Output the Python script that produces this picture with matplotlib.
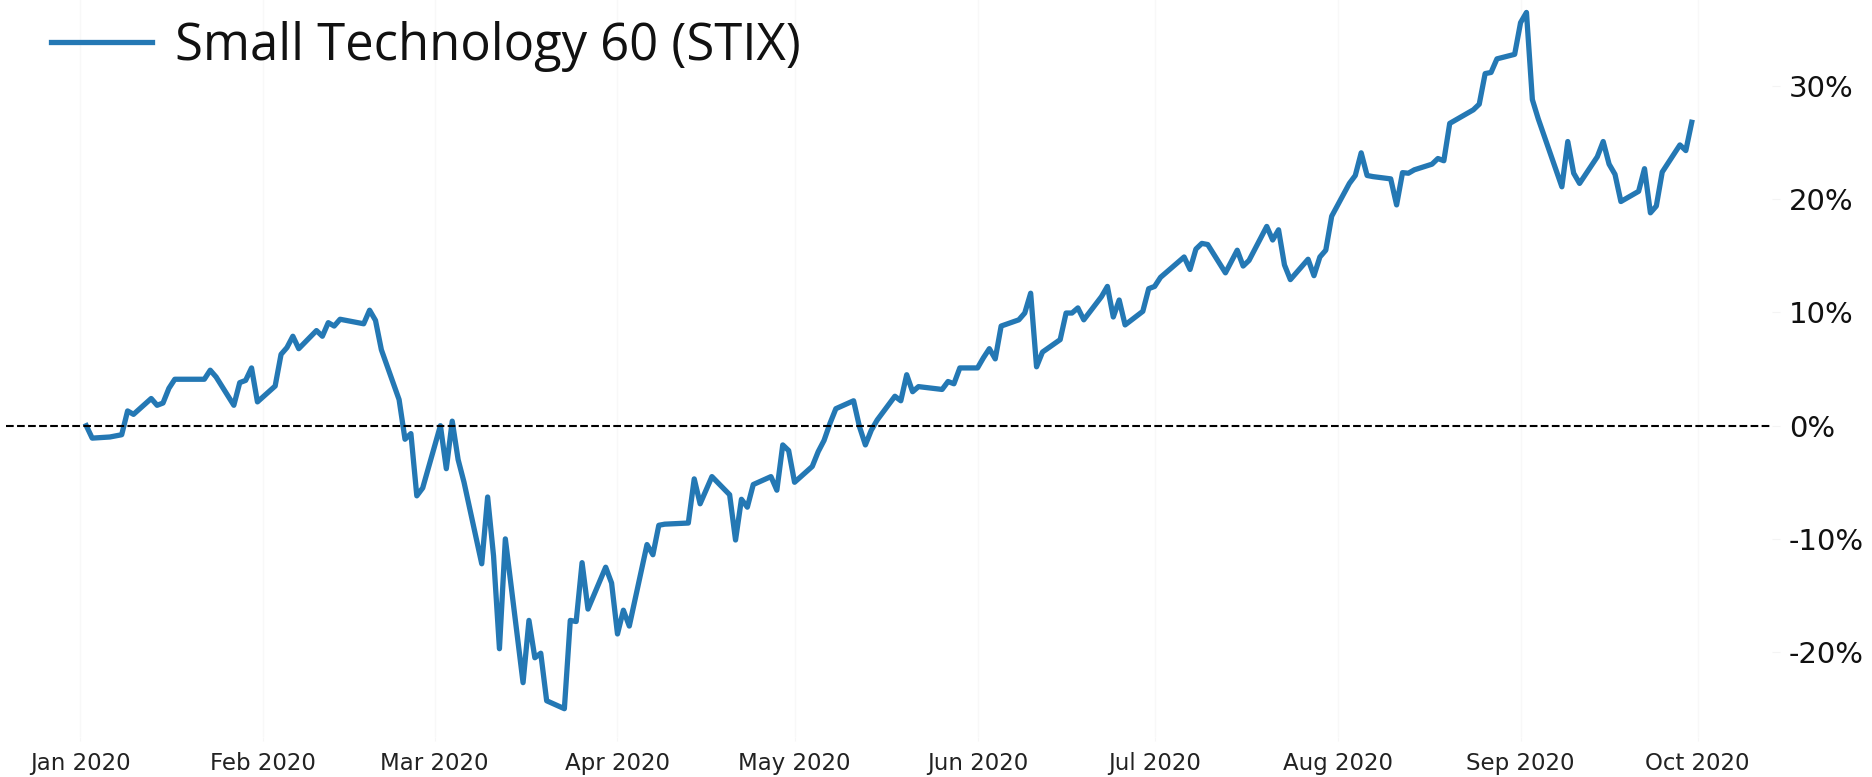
import numpy as np
import pandas as pd
import matplotlib
matplotlib.use("Agg")
import matplotlib.pyplot as plt
import matplotlib.dates as mdates
from matplotlib.ticker import FuncFormatter

# Cumulative return of the index, %
dates = [
    "2020-01-02", "2020-01-03", "2020-01-06", "2020-01-07", "2020-01-08", "2020-01-09",
    "2020-01-10", "2020-01-13", "2020-01-14", "2020-01-15", "2020-01-16", "2020-01-17",
    "2020-01-21", "2020-01-22", "2020-01-23", "2020-01-24", "2020-01-27", "2020-01-28",
    "2020-01-29", "2020-01-30", "2020-01-31", "2020-02-03", "2020-02-04", "2020-02-05",
    "2020-02-06", "2020-02-07", "2020-02-10", "2020-02-11", "2020-02-12", "2020-02-13",
    "2020-02-14", "2020-02-18", "2020-02-19", "2020-02-20", "2020-02-21", "2020-02-24",
    "2020-02-25", "2020-02-26", "2020-02-27", "2020-02-28", "2020-03-02", "2020-03-03",
    "2020-03-04", "2020-03-05", "2020-03-06", "2020-03-09", "2020-03-10", "2020-03-11",
    "2020-03-12", "2020-03-13", "2020-03-16", "2020-03-17", "2020-03-18", "2020-03-19",
    "2020-03-20", "2020-03-23", "2020-03-24", "2020-03-25", "2020-03-26", "2020-03-27",
    "2020-03-30", "2020-03-31", "2020-04-01", "2020-04-02", "2020-04-03", "2020-04-06",
    "2020-04-07", "2020-04-08", "2020-04-09", "2020-04-13", "2020-04-14", "2020-04-15",
    "2020-04-16", "2020-04-17", "2020-04-20", "2020-04-21", "2020-04-22", "2020-04-23",
    "2020-04-24", "2020-04-27", "2020-04-28", "2020-04-29", "2020-04-30", "2020-05-01",
    "2020-05-04", "2020-05-05", "2020-05-06", "2020-05-07", "2020-05-08", "2020-05-11",
    "2020-05-12", "2020-05-13", "2020-05-14", "2020-05-15", "2020-05-18", "2020-05-19",
    "2020-05-20", "2020-05-21", "2020-05-22", "2020-05-26", "2020-05-27", "2020-05-28",
    "2020-05-29", "2020-06-01", "2020-06-02", "2020-06-03", "2020-06-04", "2020-06-05",
    "2020-06-08", "2020-06-09", "2020-06-10", "2020-06-11", "2020-06-12", "2020-06-15",
    "2020-06-16", "2020-06-17", "2020-06-18", "2020-06-19", "2020-06-22", "2020-06-23",
    "2020-06-24", "2020-06-25", "2020-06-26", "2020-06-29", "2020-06-30", "2020-07-01",
    "2020-07-02", "2020-07-06", "2020-07-07", "2020-07-08", "2020-07-09", "2020-07-10",
    "2020-07-13", "2020-07-14", "2020-07-15", "2020-07-16", "2020-07-17", "2020-07-20",
    "2020-07-21", "2020-07-22", "2020-07-23", "2020-07-24", "2020-07-27", "2020-07-28",
    "2020-07-29", "2020-07-30", "2020-07-31", "2020-08-03", "2020-08-04", "2020-08-05",
    "2020-08-06", "2020-08-07", "2020-08-10", "2020-08-11", "2020-08-12", "2020-08-13",
    "2020-08-14", "2020-08-17", "2020-08-18", "2020-08-19", "2020-08-20", "2020-08-21",
    "2020-08-24", "2020-08-25", "2020-08-26", "2020-08-27", "2020-08-28", "2020-08-31",
    "2020-09-01", "2020-09-02", "2020-09-03", "2020-09-04", "2020-09-08", "2020-09-09",
    "2020-09-10", "2020-09-11", "2020-09-14", "2020-09-15", "2020-09-16", "2020-09-17",
    "2020-09-18", "2020-09-21", "2020-09-22", "2020-09-23", "2020-09-24", "2020-09-25",
    "2020-09-28", "2020-09-29", "2020-09-30",
]
returns = [
    0.0, -1.1, -1.0, -0.9, -0.8, 1.3,
    1.0, 2.4, 1.8, 2.0, 3.3, 4.1,
    4.1, 4.1, 4.9, 4.3, 1.8, 3.8,
    4.0, 5.1, 2.1, 3.5, 6.3, 6.9,
    7.9, 6.8, 8.4, 7.9, 9.1, 8.8,
    9.4, 9.0, 10.2, 9.3, 6.7, 2.3,
    -1.2, -0.7, -6.2, -5.5, 0.0, -3.8,
    0.4, -3.0, -5.0, -12.2, -6.3, -11.5,
    -19.7, -10.0, -22.7, -17.2, -20.5, -20.1,
    -24.3, -25.0, -17.2, -17.3, -12.1, -16.2,
    -12.5, -13.9, -18.4, -16.3, -17.7, -10.5,
    -11.4, -8.8, -8.7, -8.6, -4.7, -6.9,
    -5.7, -4.5, -6.1, -10.1, -6.5, -7.2,
    -5.2, -4.5, -5.7, -1.7, -2.2, -5.0,
    -3.6, -2.3, -1.3, 0.2, 1.5, 2.2,
    -0.1, -1.7, -0.4, 0.5, 2.6, 2.2,
    4.5, 3.0, 3.45, 3.2, 3.9, 3.7,
    5.1, 5.1, 6.0, 6.8, 5.9, 8.8,
    9.35, 9.95, 11.7, 5.2, 6.5, 7.6,
    9.95, 9.95, 10.4, 9.35, 11.4, 12.3,
    9.6, 11.1, 8.9, 10.1, 12.1, 12.3,
    13.1, 14.9, 13.8, 15.6, 16.1, 16.0,
    13.5, 14.5, 15.5, 14.1, 14.6, 17.6,
    16.4, 17.3, 14.2, 12.9, 14.7, 13.25,
    14.9, 15.5, 18.5, 21.4, 22.1, 24.1,
    22.1, 22.0, 21.8, 19.5, 22.35, 22.3,
    22.6, 23.1, 23.6, 23.4, 26.7, 27.0,
    27.9, 28.4, 31.1, 31.2, 32.4, 32.8,
    35.6, 36.5, 28.8, 27.1, 21.1, 25.1,
    22.3, 21.4, 23.75, 25.1, 23.1, 22.2,
    19.8, 20.7, 22.7, 18.8, 19.4, 22.4,
    24.8, 24.3, 26.8,
]
series_name = "Small Technology 60 (STIX)"
y_ticks = [-20, -10, 0, 10, 20, 30]

x = pd.to_datetime(dates)

fig = plt.figure(figsize=(18.72, 7.77), dpi=100)
ax = fig.add_axes([6 / 1872, 40 / 777, 1766 / 1872, 737 / 777])

ax.plot(x, returns, color="#2478b4", lw=3.8, label=series_name)
ax.axhline(0, color="black", ls="--", lw=1.5)

# keep the same px-per-% as the reference (0% at 425.7 px from the top)
ax.set_ylim(-27.5, 37.6)
ax.set_yticks(y_ticks)
ax.yaxis.set_major_formatter(FuncFormatter(lambda v, p: f"{v:.0f}%"))
ax.yaxis.tick_right()

ax.xaxis.set_major_locator(mdates.MonthLocator())
ax.xaxis.set_major_formatter(mdates.DateFormatter("%b %Y"))
ax.grid(axis="x", color="#f8f8f8", lw=1)

for s in ax.spines.values():
    s.set_visible(False)
ax.tick_params(axis="x", labelsize=16.5, colors="#f6f6f6", labelcolor="#222222",
               length=3, pad=8)
ax.tick_params(axis="y", labelsize=21, colors="#f4f4f4", labelcolor="#111111",
               length=6, pad=6)

leg = ax.legend(loc="center left", bbox_to_anchor=(51 / 1872, 1 - 46 / 777),
                bbox_transform=fig.transFigure, frameon=False, borderpad=0,
                borderaxespad=0, handlelength=2.0, handletextpad=0.45,
                prop={"family": "Open Sans", "size": 36.5})
for t in leg.get_texts():
    t.set_color("#111111")

fig.savefig("out.png", dpi=100)
